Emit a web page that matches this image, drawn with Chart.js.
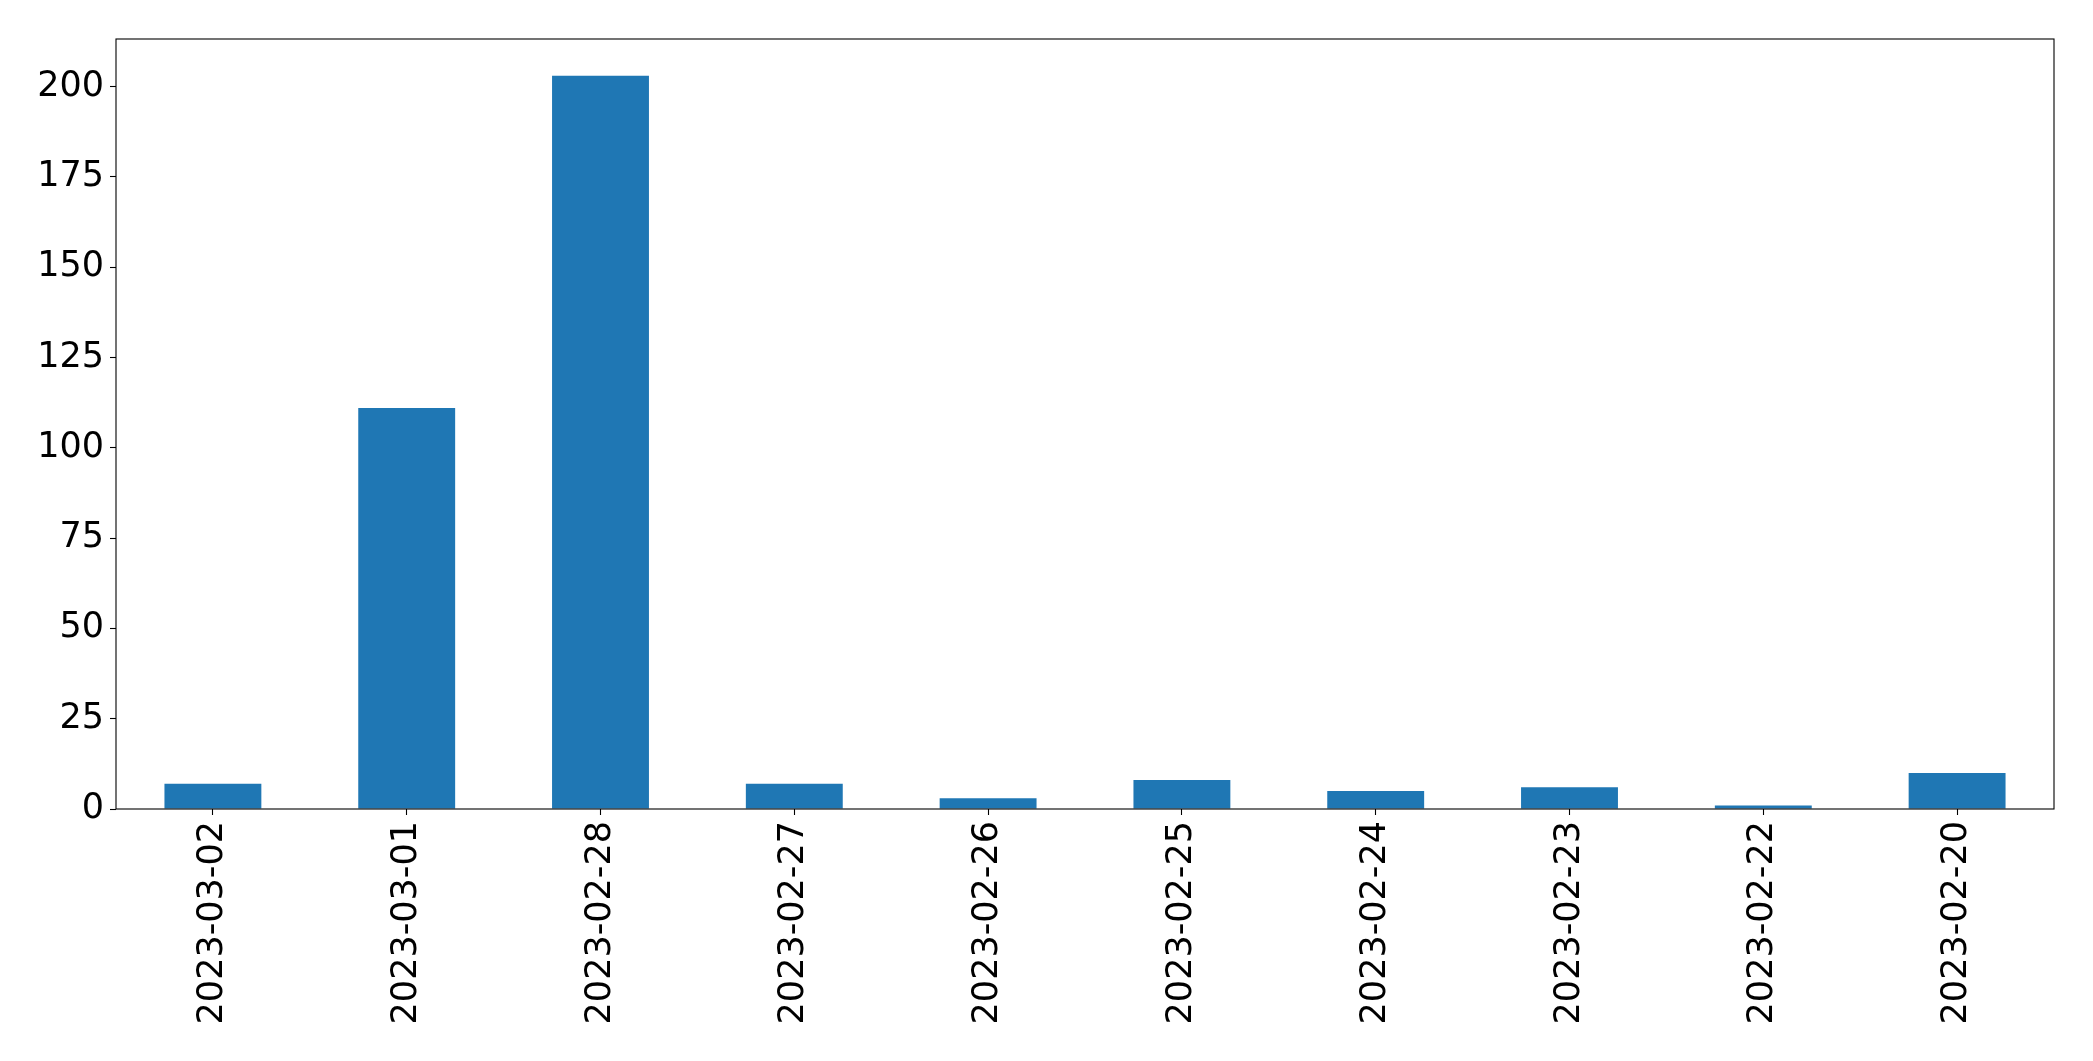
<!DOCTYPE html>
<html>
<head>
<meta charset="utf-8">
<script src="https://cdn.jsdelivr.net/npm/chart.js@4"></script>
<style>
  html, body { margin: 0; padding: 0; background: #fff; }
  #wrap { width: 2093px; height: 1061px; }
</style>
</head>
<body>
<div id="wrap"><canvas id="myChart" width="2093" height="1061"></canvas></div>
<script>
// data
var dates = ['2023-03-02', '2023-03-01', '2023-02-28', '2023-02-27', '2023-02-26',
             '2023-02-25', '2023-02-24', '2023-02-23', '2023-02-22', '2023-02-20'];
var counts = [7, 111, 203, 7, 3, 8, 5, 6, 1, 10];
var yTicks = [0, 25, 50, 75, 100, 125, 150, 175, 200];

var FONT = { family: 'DejaVu Sans', size: 35 };

// box round the plot area, like matplotlib's spines
var frame = {
  id: 'frame',
  afterDraw: function(c) {
    var a = c.chartArea, ctx = c.ctx;
    ctx.save();
    ctx.strokeStyle = '#000';
    ctx.lineWidth = 1.1;
    ctx.strokeRect(a.left, a.top, a.right - a.left, a.bottom - a.top);
    ctx.restore();
  }
};

var chart;
window.addEventListener('load', function() {
  var ctx = document.getElementById('myChart').getContext('2d');
  chart = new Chart(ctx, {
    type: 'bar',
    data: {
      labels: dates,
      datasets: [{
        data: counts,
        backgroundColor: '#1f77b4',
        borderWidth: 0,
        categoryPercentage: 1,
        barPercentage: 0.5
      }]
    },
    options: {
      responsive: false,
      animation: false,
      layout: { padding: { top: 39, right: 39, left: 0, bottom: 0 } },
      plugins: { legend: { display: false }, tooltip: { enabled: false } },
      scales: {
        x: {
          grid: { offset: false, drawOnChartArea: false, tickLength: 6, tickColor: '#000', tickWidth: 1.1 },
          border: { display: false },
          ticks: { color: '#000', font: FONT, minRotation: 90, maxRotation: 90, padding: 6, autoSkip: false },
          afterFit: function(s) { s.height = 1061 - 809; }
        },
        y: {
          min: 0,
          max: 203 * 1.05,
          grid: { drawOnChartArea: false, tickLength: 6, tickColor: '#000', tickWidth: 1.1 },
          border: { display: false },
          ticks: { color: '#000', font: FONT, stepSize: 25, includeBounds: false, padding: 6 },
          afterBuildTicks: function(s) {
            s.ticks = yTicks.map(function(v) { return { value: v }; });
          },
          afterFit: function(s) { s.width = 116; }
        }
      }
    },
    plugins: [frame]
  });
});
</script>
</body>
</html>
